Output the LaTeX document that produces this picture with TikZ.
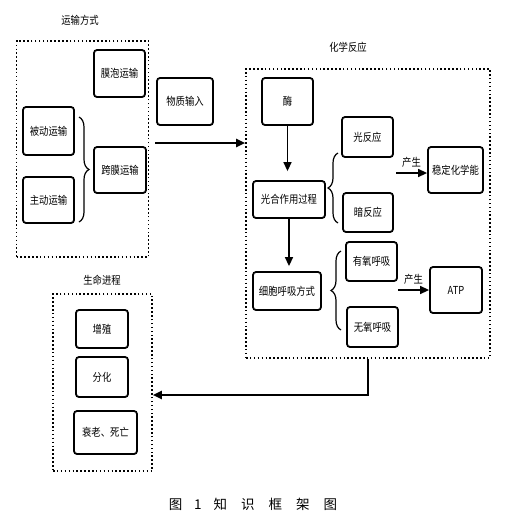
\documentclass[tikz,border=0pt]{standalone}
\usepackage{fontspec}
\setmainfont{Noto Sans CJK SC}[FakeStretch=0.85]
\newfontfamily\captionfont{Noto Sans CJK SC}
\usepackage{tikz}
\usetikzlibrary{arrows.meta}
\usetikzlibrary{decorations.pathreplacing}
\tikzstyle{NodeBox}=[draw,rounded corners=3pt,line width=1.8pt,inner sep=0pt,
font=\fontsize{11}{12}\selectfont]
\tikzstyle{GroupBox}=[draw,line width=1.6pt,dash pattern=on 1.5pt off 2.4pt,inner sep=0pt]
\tikzstyle{EdgeArrow}=[-{Triangle[length=9pt,width=8pt]},line width=1.4pt]
\tikzstyle{BraceLine}=[decorate,decoration={brace,amplitude=10pt},line width=1.2pt]
\tikzstyle{TitleText}=[font=\fontsize{11}{12}\selectfont]

\begin{document}
\begin{tikzpicture}[x=1pt,y=-1pt]
        \useasboundingbox (0,0) rectangle (517,520);
        % groups
        \node[GroupBox,minimum width=132pt,minimum height=216pt](Transport)at(82.5,149){};
        \node[GroupBox,minimum width=244pt,minimum height=289pt](Chem)at(368,213.5){};
        \node[GroupBox,minimum width=99pt,minimum height=177pt](Life)at(102.5,382.5){};
        \node[TitleText](TransportTitle)at(80,20){运输方式};
        \node[TitleText](ChemTitle)at(348,47){化学反应};
        \node[TitleText](LifeTitle)at(102,280){生命进程};
        % transport
        \node[NodeBox,minimum width=51pt,minimum height=47pt](Vesicle)at(119.5,73.5){膜泡运输};
        \node[NodeBox,minimum width=51pt,minimum height=48pt](Passive)at(48.5,131){被动运输};
        \node[NodeBox,minimum width=51pt,minimum height=46pt](Active)at(48.5,200){主动运输};
        \node[NodeBox,minimum width=52pt,minimum height=46pt](Trans)at(120,170){跨膜运输};
        \node[NodeBox,minimum width=56pt,minimum height=47pt](Input)at(185,101.5){物质输入};
        % chemistry
        \node[NodeBox,minimum width=51pt,minimum height=47pt](Enzyme)at(287.5,101.5){酶};
        \node[NodeBox,minimum width=72pt,minimum height=37pt](Photo)at(289,199.5){光合作用过程};
        \node[NodeBox,minimum width=68pt,minimum height=38pt](Resp)at(287,291){细胞呼吸方式};
        \node[NodeBox,minimum width=51pt,minimum height=40pt](Light)at(367.5,137){光反应};
        \node[NodeBox,minimum width=50pt,minimum height=39pt](Dark)at(368,212.5){暗反应};
        \node[NodeBox,minimum width=55pt,minimum height=46pt](Energy)at(455.5,170){稳定化学能};
        \node[NodeBox,minimum width=51pt,minimum height=39pt](Aerobic)at(371.5,261.5){有氧呼吸};
        \node[NodeBox,minimum width=51pt,minimum height=40pt](Anaerobic)at(372.5,327){无氧呼吸};
        \node[NodeBox,minimum width=52pt,minimum height=46pt](ATP)at(456,290){ATP};
        % life
        \node[NodeBox,minimum width=52pt,minimum height=38pt](Grow)at(102,329){增殖};
        \node[NodeBox,minimum width=52pt,minimum height=40pt](Diff)at(102,377){分化};
        \node[NodeBox,minimum width=63pt,minimum height=43pt](Aging)at(105.5,432.5){衰老、死亡};
        % braces
        \coordinate(BraceATop)at(79,117);
        \coordinate(BraceABot)at(79,222);
        \coordinate(BraceBTop)at(338,153);
        \coordinate(BraceBBot)at(338,223);
        \coordinate(BraceCTop)at(341,251);
        \coordinate(BraceCBot)at(341,330);
        \draw[BraceLine](BraceATop)--(BraceABot);
        \draw[BraceLine](BraceBBot)--(BraceBTop);
        \draw[BraceLine](BraceCBot)--(BraceCTop);
        % arrows
        \draw[EdgeArrow,line width=2pt,shorten <=6pt]([yshift=6pt]Transport.east)--([yshift=6pt]Transport.east -| Chem.west);
        \draw[EdgeArrow,shorten >=9pt](Enzyme.south)--(Enzyme.south |- Photo.north);
        \draw[EdgeArrow,shorten >=5pt](Photo.south)--(Photo.south |- Resp.north);
        \coordinate(ProdA)at(396,173);
        \coordinate(ProdB)at(398,290);
        \draw[EdgeArrow](ProdA)--(ProdA -| Energy.west) node[midway,above=2pt,font=\fontsize{11}{12}\selectfont]{产生};
        \draw[EdgeArrow](ProdB)--(ProdB -| ATP.west) node[midway,above=2pt,font=\fontsize{11}{12}\selectfont]{产生};
        \draw[EdgeArrow,line width=2pt](Chem.south)|-([yshift=-12.5pt]Life.east);
        % caption
        \node[font=\captionfont\fontsize{13.5}{15}\selectfont](Caption)at(253,504){图\hspace{12pt}1\hspace{12pt}知\hspace{14pt}识\hspace{14pt}框\hspace{14pt}架\hspace{14pt}图};
    \end{tikzpicture}
\end{document}
